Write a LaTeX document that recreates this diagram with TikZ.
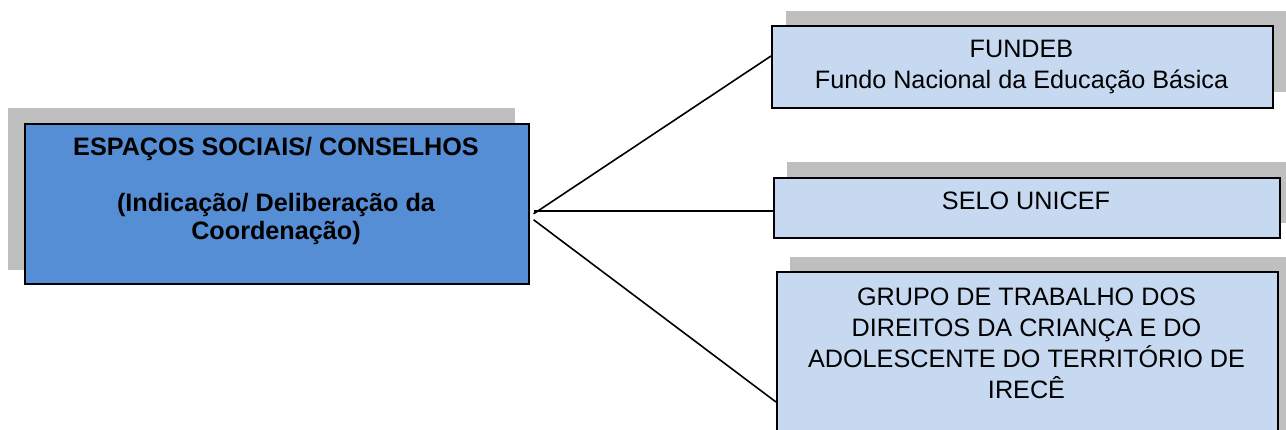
\documentclass[tikz,border=0pt]{standalone}
\usepackage{fontspec}
\setmainfont{Liberation Sans}
\definecolor{mainblue}{HTML}{558ED5}
\definecolor{lightblue}{HTML}{C6D9F1}
\definecolor{shadowgray}{HTML}{BFBFBF}
\begin{document}
\begin{tikzpicture}[x=1pt,y=-1pt,
  shadowbox/.style={fill=shadowgray, draw=none, inner sep=0, anchor=north west},
  mainbox/.style={draw=black, line width=1.6pt, fill=mainblue, inner sep=0, anchor=north west},
  subbox/.style={draw=black, line width=1.6pt, fill=lightblue, inner sep=0, anchor=north west},
  boxtext/.style={inner sep=0, anchor=north, align=center, font=\fontsize{25.2}{31}\selectfont},
  maintext/.style={inner sep=0, anchor=north, align=center, font=\bfseries\fontsize{25.2}{28}\selectfont},
  conn/.style={draw=black, line width=1.6pt}]
\useasboundingbox (0,0) rectangle (1286,430);
% shadows
\node[shadowbox, minimum width=507pt, minimum height=162pt] (mainshadow) at (8,108) {};
\node[shadowbox, minimum width=501pt, minimum height=81pt] (fundebshadow) at (786,11) {};
\node[shadowbox, minimum width=506pt, minimum height=61pt] (seloshadow) at (787,162) {};
\node[shadowbox, minimum width=501pt, minimum height=180pt] (gruposhadow) at (790,257) {};
% boxes
\node[mainbox, minimum width=504pt, minimum height=160pt] (main) at (24,123) {};
\node[subbox, minimum width=501pt, minimum height=82pt] (fundeb) at (771,25) {};
\node[subbox, minimum width=506pt, minimum height=60pt] (selo) at (773,177) {};
\node[subbox, minimum width=501pt, minimum height=180pt] (grupo) at (776,271) {};
% texts
\node[maintext] (maintitle) at (276,137) {ESPAÇOS SOCIAIS/ CONSELHOS\\[28pt](Indicação/ Deliberação da\\Coordenação)};
\node[boxtext] (fundebtext) at (1021.5,40) {FUNDEB\\Fundo Nacional da Educação Básica};
\node[boxtext] (selotext) at (1026,192) {SELO UNICEF};
\node[boxtext] (grupotext) at (1026.5,288) {GRUPO DE TRABALHO DOS\\DIREITOS DA CRIANÇA E DO\\ADOLESCENTE DO TERRITÓRIO DE\\IRECÊ};
% connectors
\draw[conn] ([xshift=4pt,yshift=-10pt]main.east) -- ([yshift=-31pt]fundeb.north west);
\draw[conn] ([xshift=4pt,yshift=-7pt]main.east) -- ([yshift=-3pt]selo.west);
\draw[conn] ([xshift=4pt,yshift=-16pt]main.east) -- ([yshift=-131pt]grupo.north west);
\end{tikzpicture}
\end{document}
